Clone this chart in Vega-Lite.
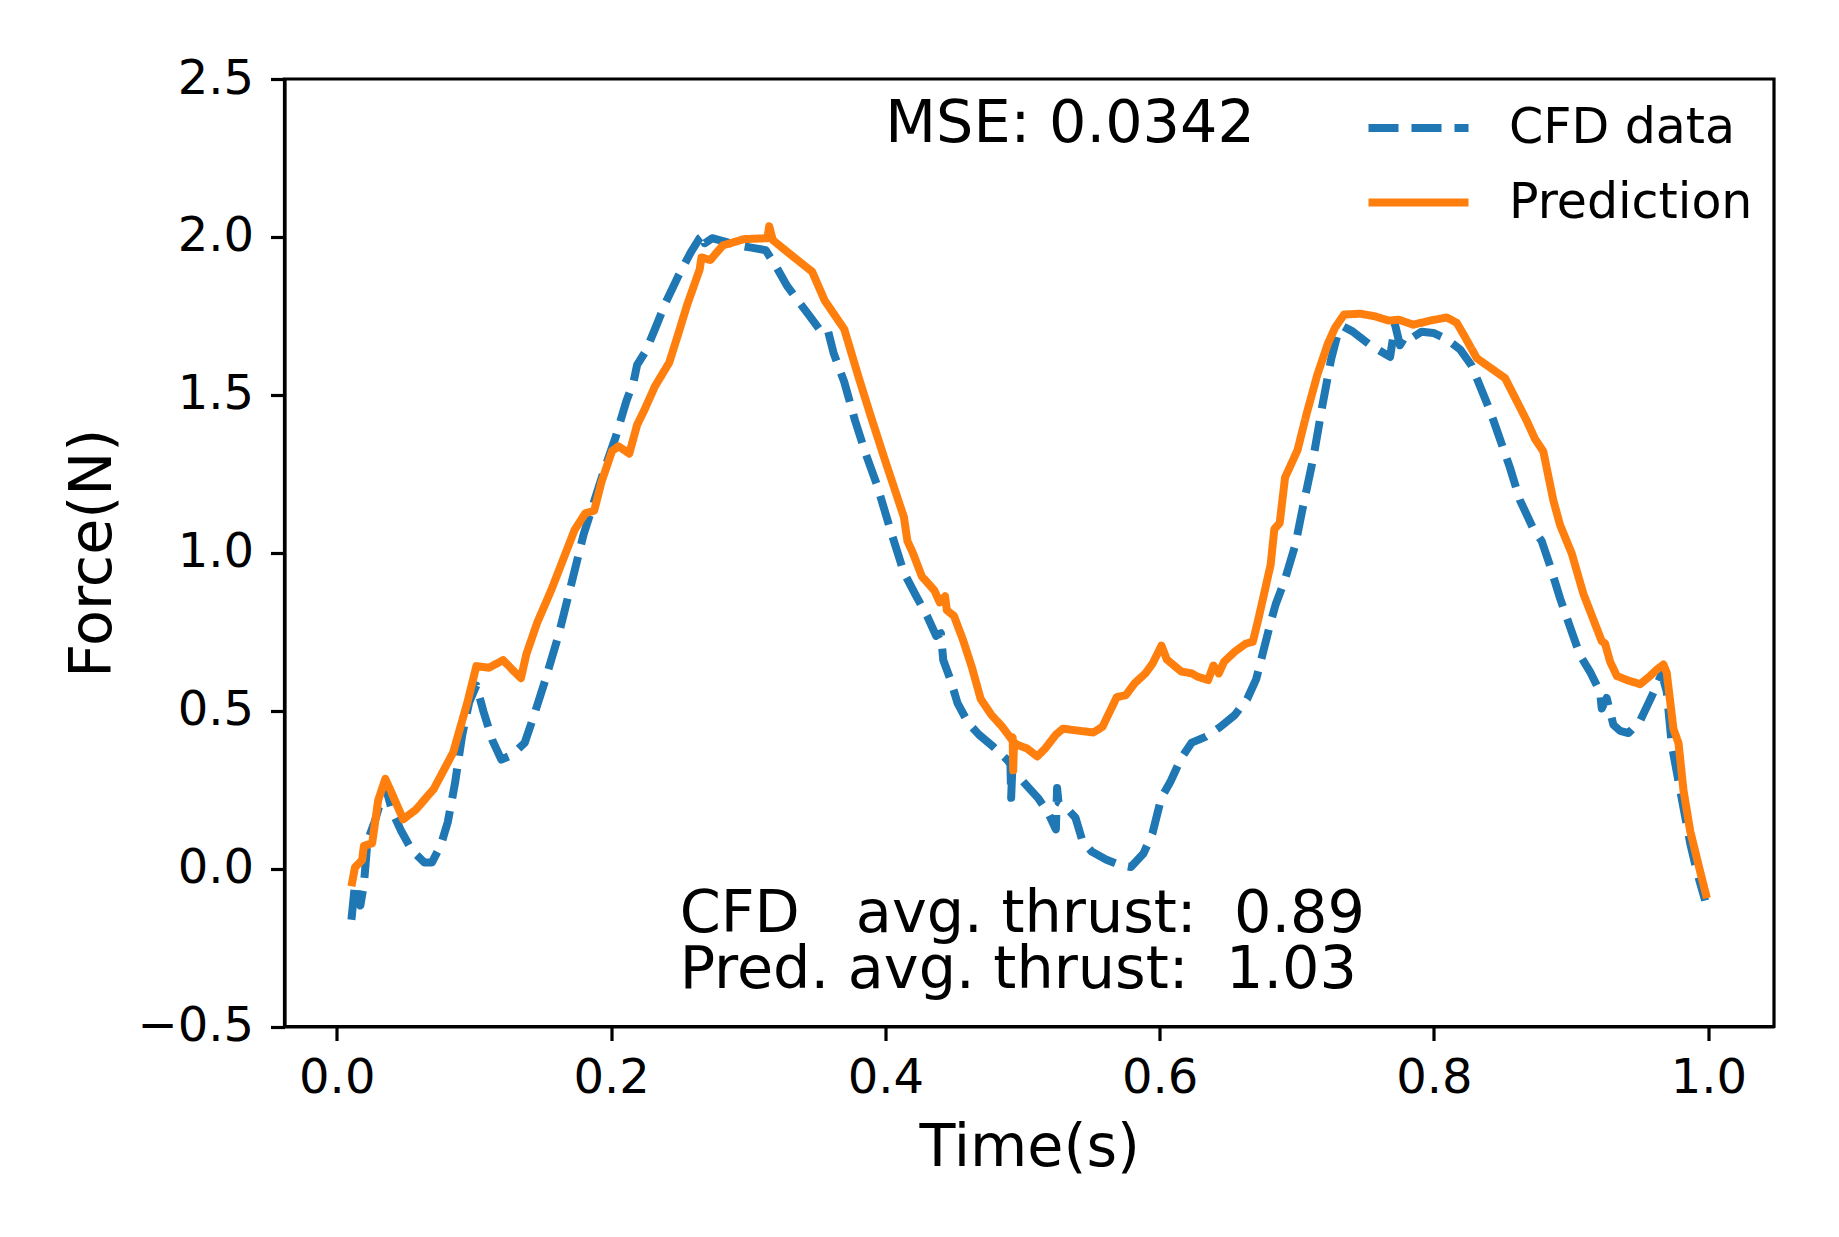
{
  "$schema": "https://vega.github.io/schema/vega-lite/v6.json",
  "width": 1489.5,
  "height": 947.5,
  "autosize": {"type": "none"},
  "padding": {"left": 284.5, "top": 79, "right": 65, "bottom": 210.5},
  "background": "white",
  "datasets": {
    "curves": [
      {"t": 0.0107, "f": -0.162, "s": "CFD data"},
      {"t": 0.0133, "f": -0.049, "s": "CFD data"},
      {"t": 0.0172, "f": -0.117, "s": "CFD data"},
      {"t": 0.0198, "f": -0.049, "s": "CFD data"},
      {"t": 0.0224, "f": 0.087, "s": "CFD data"},
      {"t": 0.0276, "f": 0.148, "s": "CFD data"},
      {"t": 0.0354, "f": 0.262, "s": "CFD data"},
      {"t": 0.0406, "f": 0.179, "s": "CFD data"},
      {"t": 0.0471, "f": 0.118, "s": "CFD data"},
      {"t": 0.0549, "f": 0.057, "s": "CFD data"},
      {"t": 0.064, "f": 0.019, "s": "CFD data"},
      {"t": 0.0693, "f": 0.019, "s": "CFD data"},
      {"t": 0.0758, "f": 0.073, "s": "CFD data"},
      {"t": 0.081, "f": 0.148, "s": "CFD data"},
      {"t": 0.0862, "f": 0.27, "s": "CFD data"},
      {"t": 0.0914, "f": 0.421, "s": "CFD data"},
      {"t": 0.0966, "f": 0.527, "s": "CFD data"},
      {"t": 0.1018, "f": 0.58, "s": "CFD data"},
      {"t": 0.107, "f": 0.497, "s": "CFD data"},
      {"t": 0.1135, "f": 0.406, "s": "CFD data"},
      {"t": 0.12, "f": 0.345, "s": "CFD data"},
      {"t": 0.1278, "f": 0.36, "s": "CFD data"},
      {"t": 0.137, "f": 0.398, "s": "CFD data"},
      {"t": 0.1435, "f": 0.481, "s": "CFD data"},
      {"t": 0.1513, "f": 0.587, "s": "CFD data"},
      {"t": 0.1617, "f": 0.739, "s": "CFD data"},
      {"t": 0.1721, "f": 0.92, "s": "CFD data"},
      {"t": 0.1799, "f": 1.057, "s": "CFD data"},
      {"t": 0.1877, "f": 1.163, "s": "CFD data"},
      {"t": 0.1955, "f": 1.269, "s": "CFD data"},
      {"t": 0.2034, "f": 1.367, "s": "CFD data"},
      {"t": 0.2112, "f": 1.481, "s": "CFD data"},
      {"t": 0.2164, "f": 1.541, "s": "CFD data"},
      {"t": 0.219, "f": 1.595, "s": "CFD data"},
      {"t": 0.2255, "f": 1.64, "s": "CFD data"},
      {"t": 0.232, "f": 1.708, "s": "CFD data"},
      {"t": 0.2398, "f": 1.792, "s": "CFD data"},
      {"t": 0.2489, "f": 1.875, "s": "CFD data"},
      {"t": 0.2581, "f": 1.951, "s": "CFD data"},
      {"t": 0.2646, "f": 1.996, "s": "CFD data"},
      {"t": 0.268, "f": 2.008, "s": "CFD data"},
      {"t": 0.2684, "f": 1.98, "s": "CFD data"},
      {"t": 0.2737, "f": 1.996, "s": "CFD data"},
      {"t": 0.2919, "f": 1.974, "s": "CFD data"},
      {"t": 0.3023, "f": 1.966, "s": "CFD data"},
      {"t": 0.3127, "f": 1.958, "s": "CFD data"},
      {"t": 0.3205, "f": 1.905, "s": "CFD data"},
      {"t": 0.3283, "f": 1.845, "s": "CFD data"},
      {"t": 0.3361, "f": 1.799, "s": "CFD data"},
      {"t": 0.344, "f": 1.754, "s": "CFD data"},
      {"t": 0.3544, "f": 1.693, "s": "CFD data"},
      {"t": 0.3583, "f": 1.7, "s": "CFD data"},
      {"t": 0.3622, "f": 1.633, "s": "CFD data"},
      {"t": 0.37, "f": 1.541, "s": "CFD data"},
      {"t": 0.3778, "f": 1.42, "s": "CFD data"},
      {"t": 0.3856, "f": 1.314, "s": "CFD data"},
      {"t": 0.394, "f": 1.213, "s": "CFD data"},
      {"t": 0.4044, "f": 1.062, "s": "CFD data"},
      {"t": 0.4135, "f": 0.937, "s": "CFD data"},
      {"t": 0.4226, "f": 0.862, "s": "CFD data"},
      {"t": 0.4304, "f": 0.8, "s": "CFD data"},
      {"t": 0.437, "f": 0.737, "s": "CFD data"},
      {"t": 0.4405, "f": 0.745, "s": "CFD data"},
      {"t": 0.4422, "f": 0.66, "s": "CFD data"},
      {"t": 0.4474, "f": 0.599, "s": "CFD data"},
      {"t": 0.4526, "f": 0.524, "s": "CFD data"},
      {"t": 0.4604, "f": 0.461, "s": "CFD data"},
      {"t": 0.4682, "f": 0.424, "s": "CFD data"},
      {"t": 0.4786, "f": 0.386, "s": "CFD data"},
      {"t": 0.4891, "f": 0.343, "s": "CFD data"},
      {"t": 0.4912, "f": 0.33, "s": "CFD data"},
      {"t": 0.4917, "f": 0.224, "s": "CFD data"},
      {"t": 0.4925, "f": 0.31, "s": "CFD data"},
      {"t": 0.4956, "f": 0.299, "s": "CFD data"},
      {"t": 0.5034, "f": 0.261, "s": "CFD data"},
      {"t": 0.5112, "f": 0.224, "s": "CFD data"},
      {"t": 0.519, "f": 0.174, "s": "CFD data"},
      {"t": 0.5243, "f": 0.124, "s": "CFD data"},
      {"t": 0.5252, "f": 0.255, "s": "CFD data"},
      {"t": 0.5262, "f": 0.21, "s": "CFD data"},
      {"t": 0.5308, "f": 0.198, "s": "CFD data"},
      {"t": 0.5386, "f": 0.161, "s": "CFD data"},
      {"t": 0.5438, "f": 0.086, "s": "CFD data"},
      {"t": 0.5504, "f": 0.054, "s": "CFD data"},
      {"t": 0.5608, "f": 0.029, "s": "CFD data"},
      {"t": 0.5712, "f": 0.011, "s": "CFD data"},
      {"t": 0.579, "f": 0.005, "s": "CFD data"},
      {"t": 0.5882, "f": 0.048, "s": "CFD data"},
      {"t": 0.5947, "f": 0.111, "s": "CFD data"},
      {"t": 0.6012, "f": 0.224, "s": "CFD data"},
      {"t": 0.6077, "f": 0.274, "s": "CFD data"},
      {"t": 0.6156, "f": 0.349, "s": "CFD data"},
      {"t": 0.6234, "f": 0.399, "s": "CFD data"},
      {"t": 0.6338, "f": 0.418, "s": "CFD data"},
      {"t": 0.6443, "f": 0.449, "s": "CFD data"},
      {"t": 0.6547, "f": 0.486, "s": "CFD data"},
      {"t": 0.6638, "f": 0.537, "s": "CFD data"},
      {"t": 0.6703, "f": 0.599, "s": "CFD data"},
      {"t": 0.6755, "f": 0.687, "s": "CFD data"},
      {"t": 0.6806, "f": 0.775, "s": "CFD data"},
      {"t": 0.6846, "f": 0.837, "s": "CFD data"},
      {"t": 0.6911, "f": 0.912, "s": "CFD data"},
      {"t": 0.6989, "f": 1.025, "s": "CFD data"},
      {"t": 0.7041, "f": 1.138, "s": "CFD data"},
      {"t": 0.712, "f": 1.3, "s": "CFD data"},
      {"t": 0.7185, "f": 1.463, "s": "CFD data"},
      {"t": 0.725, "f": 1.613, "s": "CFD data"},
      {"t": 0.7302, "f": 1.701, "s": "CFD data"},
      {"t": 0.7341, "f": 1.716, "s": "CFD data"},
      {"t": 0.7406, "f": 1.701, "s": "CFD data"},
      {"t": 0.7537, "f": 1.657, "s": "CFD data"},
      {"t": 0.768, "f": 1.62, "s": "CFD data"},
      {"t": 0.7716, "f": 1.722, "s": "CFD data"},
      {"t": 0.7752, "f": 1.657, "s": "CFD data"},
      {"t": 0.7797, "f": 1.689, "s": "CFD data"},
      {"t": 0.7849, "f": 1.683, "s": "CFD data"},
      {"t": 0.791, "f": 1.7, "s": "CFD data"},
      {"t": 0.7995, "f": 1.696, "s": "CFD data"},
      {"t": 0.8093, "f": 1.676, "s": "CFD data"},
      {"t": 0.819, "f": 1.644, "s": "CFD data"},
      {"t": 0.8275, "f": 1.592, "s": "CFD data"},
      {"t": 0.8335, "f": 1.528, "s": "CFD data"},
      {"t": 0.8408, "f": 1.45, "s": "CFD data"},
      {"t": 0.8481, "f": 1.36, "s": "CFD data"},
      {"t": 0.8554, "f": 1.269, "s": "CFD data"},
      {"t": 0.8627, "f": 1.166, "s": "CFD data"},
      {"t": 0.8725, "f": 1.075, "s": "CFD data"},
      {"t": 0.8785, "f": 1.037, "s": "CFD data"},
      {"t": 0.8846, "f": 0.959, "s": "CFD data"},
      {"t": 0.8919, "f": 0.856, "s": "CFD data"},
      {"t": 0.8992, "f": 0.765, "s": "CFD data"},
      {"t": 0.9065, "f": 0.675, "s": "CFD data"},
      {"t": 0.9138, "f": 0.623, "s": "CFD data"},
      {"t": 0.9211, "f": 0.559, "s": "CFD data"},
      {"t": 0.9223, "f": 0.507, "s": "CFD data"},
      {"t": 0.9259, "f": 0.54, "s": "CFD data"},
      {"t": 0.9308, "f": 0.455, "s": "CFD data"},
      {"t": 0.9357, "f": 0.436, "s": "CFD data"},
      {"t": 0.9418, "f": 0.429, "s": "CFD data"},
      {"t": 0.9503, "f": 0.468, "s": "CFD data"},
      {"t": 0.9588, "f": 0.546, "s": "CFD data"},
      {"t": 0.9661, "f": 0.617, "s": "CFD data"},
      {"t": 0.9697, "f": 0.56, "s": "CFD data"},
      {"t": 0.9734, "f": 0.39, "s": "CFD data"},
      {"t": 0.9795, "f": 0.248, "s": "CFD data"},
      {"t": 0.9868, "f": 0.08, "s": "CFD data"},
      {"t": 0.9917, "f": -0.01, "s": "CFD data"},
      {"t": 0.9977, "f": -0.101, "s": "CFD data"},
      {"t": 0.0107, "f": -0.056, "s": "Prediction"},
      {"t": 0.0133, "f": 0.004, "s": "Prediction"},
      {"t": 0.0185, "f": 0.027, "s": "Prediction"},
      {"t": 0.0198, "f": 0.072, "s": "Prediction"},
      {"t": 0.0258, "f": 0.08, "s": "Prediction"},
      {"t": 0.0302, "f": 0.216, "s": "Prediction"},
      {"t": 0.0354, "f": 0.284, "s": "Prediction"},
      {"t": 0.0393, "f": 0.247, "s": "Prediction"},
      {"t": 0.0484, "f": 0.156, "s": "Prediction"},
      {"t": 0.0575, "f": 0.186, "s": "Prediction"},
      {"t": 0.0706, "f": 0.251, "s": "Prediction"},
      {"t": 0.0849, "f": 0.368, "s": "Prediction"},
      {"t": 0.0953, "f": 0.527, "s": "Prediction"},
      {"t": 0.1018, "f": 0.641, "s": "Prediction"},
      {"t": 0.111, "f": 0.636, "s": "Prediction"},
      {"t": 0.1213, "f": 0.66, "s": "Prediction"},
      {"t": 0.1291, "f": 0.625, "s": "Prediction"},
      {"t": 0.1343, "f": 0.603, "s": "Prediction"},
      {"t": 0.1382, "f": 0.678, "s": "Prediction"},
      {"t": 0.146, "f": 0.777, "s": "Prediction"},
      {"t": 0.1565, "f": 0.883, "s": "Prediction"},
      {"t": 0.1734, "f": 1.072, "s": "Prediction"},
      {"t": 0.1812, "f": 1.125, "s": "Prediction"},
      {"t": 0.1877, "f": 1.133, "s": "Prediction"},
      {"t": 0.193, "f": 1.224, "s": "Prediction"},
      {"t": 0.2007, "f": 1.322, "s": "Prediction"},
      {"t": 0.2054, "f": 1.337, "s": "Prediction"},
      {"t": 0.2133, "f": 1.314, "s": "Prediction"},
      {"t": 0.219, "f": 1.405, "s": "Prediction"},
      {"t": 0.2242, "f": 1.451, "s": "Prediction"},
      {"t": 0.232, "f": 1.527, "s": "Prediction"},
      {"t": 0.2424, "f": 1.602, "s": "Prediction"},
      {"t": 0.249, "f": 1.693, "s": "Prediction"},
      {"t": 0.2554, "f": 1.784, "s": "Prediction"},
      {"t": 0.2646, "f": 1.897, "s": "Prediction"},
      {"t": 0.2659, "f": 1.935, "s": "Prediction"},
      {"t": 0.2724, "f": 1.927, "s": "Prediction"},
      {"t": 0.2815, "f": 1.973, "s": "Prediction"},
      {"t": 0.297, "f": 1.993, "s": "Prediction"},
      {"t": 0.314, "f": 1.996, "s": "Prediction"},
      {"t": 0.3153, "f": 2.034, "s": "Prediction"},
      {"t": 0.3179, "f": 1.99, "s": "Prediction"},
      {"t": 0.3335, "f": 1.935, "s": "Prediction"},
      {"t": 0.3466, "f": 1.89, "s": "Prediction"},
      {"t": 0.3557, "f": 1.799, "s": "Prediction"},
      {"t": 0.37, "f": 1.708, "s": "Prediction"},
      {"t": 0.3804, "f": 1.557, "s": "Prediction"},
      {"t": 0.3888, "f": 1.44, "s": "Prediction"},
      {"t": 0.3992, "f": 1.3, "s": "Prediction"},
      {"t": 0.4135, "f": 1.113, "s": "Prediction"},
      {"t": 0.4161, "f": 1.037, "s": "Prediction"},
      {"t": 0.42, "f": 1.0, "s": "Prediction"},
      {"t": 0.4266, "f": 0.925, "s": "Prediction"},
      {"t": 0.4357, "f": 0.881, "s": "Prediction"},
      {"t": 0.4396, "f": 0.843, "s": "Prediction"},
      {"t": 0.4435, "f": 0.862, "s": "Prediction"},
      {"t": 0.4448, "f": 0.818, "s": "Prediction"},
      {"t": 0.45, "f": 0.8, "s": "Prediction"},
      {"t": 0.4566, "f": 0.724, "s": "Prediction"},
      {"t": 0.4631, "f": 0.637, "s": "Prediction"},
      {"t": 0.4695, "f": 0.537, "s": "Prediction"},
      {"t": 0.4774, "f": 0.486, "s": "Prediction"},
      {"t": 0.4852, "f": 0.449, "s": "Prediction"},
      {"t": 0.4917, "f": 0.411, "s": "Prediction"},
      {"t": 0.4928, "f": 0.415, "s": "Prediction"},
      {"t": 0.4932, "f": 0.311, "s": "Prediction"},
      {"t": 0.4938, "f": 0.4, "s": "Prediction"},
      {"t": 0.4956, "f": 0.393, "s": "Prediction"},
      {"t": 0.5034, "f": 0.38, "s": "Prediction"},
      {"t": 0.5107, "f": 0.355, "s": "Prediction"},
      {"t": 0.5165, "f": 0.38, "s": "Prediction"},
      {"t": 0.5243, "f": 0.424, "s": "Prediction"},
      {"t": 0.5295, "f": 0.443, "s": "Prediction"},
      {"t": 0.54, "f": 0.437, "s": "Prediction"},
      {"t": 0.5517, "f": 0.431, "s": "Prediction"},
      {"t": 0.5583, "f": 0.449, "s": "Prediction"},
      {"t": 0.5687, "f": 0.543, "s": "Prediction"},
      {"t": 0.5753, "f": 0.549, "s": "Prediction"},
      {"t": 0.5818, "f": 0.587, "s": "Prediction"},
      {"t": 0.5896, "f": 0.618, "s": "Prediction"},
      {"t": 0.5948, "f": 0.649, "s": "Prediction"},
      {"t": 0.6013, "f": 0.706, "s": "Prediction"},
      {"t": 0.6052, "f": 0.662, "s": "Prediction"},
      {"t": 0.6157, "f": 0.624, "s": "Prediction"},
      {"t": 0.6235, "f": 0.618, "s": "Prediction"},
      {"t": 0.6274, "f": 0.608, "s": "Prediction"},
      {"t": 0.6353, "f": 0.597, "s": "Prediction"},
      {"t": 0.6392, "f": 0.643, "s": "Prediction"},
      {"t": 0.6431, "f": 0.618, "s": "Prediction"},
      {"t": 0.647, "f": 0.655, "s": "Prediction"},
      {"t": 0.6548, "f": 0.687, "s": "Prediction"},
      {"t": 0.6627, "f": 0.712, "s": "Prediction"},
      {"t": 0.6679, "f": 0.718, "s": "Prediction"},
      {"t": 0.6718, "f": 0.787, "s": "Prediction"},
      {"t": 0.677, "f": 0.887, "s": "Prediction"},
      {"t": 0.6809, "f": 0.962, "s": "Prediction"},
      {"t": 0.6836, "f": 1.075, "s": "Prediction"},
      {"t": 0.6875, "f": 1.094, "s": "Prediction"},
      {"t": 0.6914, "f": 1.238, "s": "Prediction"},
      {"t": 0.7005, "f": 1.325, "s": "Prediction"},
      {"t": 0.707, "f": 1.438, "s": "Prediction"},
      {"t": 0.7149, "f": 1.563, "s": "Prediction"},
      {"t": 0.7227, "f": 1.663, "s": "Prediction"},
      {"t": 0.7279, "f": 1.713, "s": "Prediction"},
      {"t": 0.7344, "f": 1.754, "s": "Prediction"},
      {"t": 0.7461, "f": 1.757, "s": "Prediction"},
      {"t": 0.7566, "f": 1.749, "s": "Prediction"},
      {"t": 0.767, "f": 1.735, "s": "Prediction"},
      {"t": 0.7743, "f": 1.738, "s": "Prediction"},
      {"t": 0.7849, "f": 1.722, "s": "Prediction"},
      {"t": 0.7971, "f": 1.735, "s": "Prediction"},
      {"t": 0.8093, "f": 1.745, "s": "Prediction"},
      {"t": 0.8166, "f": 1.728, "s": "Prediction"},
      {"t": 0.8226, "f": 1.683, "s": "Prediction"},
      {"t": 0.8312, "f": 1.616, "s": "Prediction"},
      {"t": 0.8433, "f": 1.579, "s": "Prediction"},
      {"t": 0.8518, "f": 1.553, "s": "Prediction"},
      {"t": 0.8578, "f": 1.502, "s": "Prediction"},
      {"t": 0.8676, "f": 1.418, "s": "Prediction"},
      {"t": 0.8737, "f": 1.36, "s": "Prediction"},
      {"t": 0.8797, "f": 1.321, "s": "Prediction"},
      {"t": 0.887, "f": 1.166, "s": "Prediction"},
      {"t": 0.8919, "f": 1.088, "s": "Prediction"},
      {"t": 0.9004, "f": 0.998, "s": "Prediction"},
      {"t": 0.909, "f": 0.869, "s": "Prediction"},
      {"t": 0.9223, "f": 0.72, "s": "Prediction"},
      {"t": 0.9247, "f": 0.713, "s": "Prediction"},
      {"t": 0.9284, "f": 0.655, "s": "Prediction"},
      {"t": 0.9333, "f": 0.61, "s": "Prediction"},
      {"t": 0.9406, "f": 0.597, "s": "Prediction"},
      {"t": 0.9503, "f": 0.584, "s": "Prediction"},
      {"t": 0.9576, "f": 0.61, "s": "Prediction"},
      {"t": 0.9624, "f": 0.63, "s": "Prediction"},
      {"t": 0.9673, "f": 0.646, "s": "Prediction"},
      {"t": 0.9697, "f": 0.62, "s": "Prediction"},
      {"t": 0.9746, "f": 0.442, "s": "Prediction"},
      {"t": 0.9783, "f": 0.397, "s": "Prediction"},
      {"t": 0.9819, "f": 0.248, "s": "Prediction"},
      {"t": 0.9868, "f": 0.119, "s": "Prediction"},
      {"t": 0.9941, "f": -0.01, "s": "Prediction"},
      {"t": 0.999, "f": -0.094, "s": "Prediction"}
    ],
    "notes": [
      {"t": 0.4, "f": 2.3, "label": "MSE: 0.0342"},
      {"t": 0.25, "f": -0.2, "label": "CFD\u00a0\u00a0\u00a0avg. thrust:\u00a0\u00a00.89\nPred. avg. thrust:\u00a0\u00a01.03"}
    ]
  },
  "encoding": {
    "x": {
      "field": "t",
      "type": "quantitative",
      "scale": {"domain": [-0.0381, 1.0479], "nice": false, "zero": false},
      "axis": {
        "title": "Time(s)",
        "values": [0, 0.2, 0.4, 0.6, 0.8, 1.0],
        "format": ".1f",
        "labelBaseline": "alphabetic",
        "labelPadding": 51.5,
        "titleY": 138.5,
        "titleBaseline": "alphabetic"
      }
    },
    "y": {
      "field": "f",
      "type": "quantitative",
      "scale": {"domain": [-0.5, 2.5], "nice": false, "zero": false},
      "axis": {
        "title": "Force(N)",
        "values": [-0.5, 0, 0.5, 1, 1.5, 2, 2.5],
        "format": ".1f",
        "labelBaseline": "middle",
        "labelPadding": 17,
        "titleAngle": 270,
        "titleAlign": "center",
        "titleBaseline": "alphabetic",
        "titleX": -174.5,
        "titleY": 473.75
      }
    }
  },
  "layer": [
    {
      "data": {"name": "curves"},
      "mark": {"type": "line", "strokeWidth": 8, "strokeJoin": "round", "clip": true},
      "encoding": {
        "color": {
          "field": "s",
          "type": "nominal",
          "scale": {"domain": ["CFD data", "Prediction"], "range": ["#1f77b4", "#ff7f0e"]},
          "legend": {
            "title": null,
            "orient": "none",
            "legendX": 1105,
            "legendY": 20,
            "padding": 0,
            "symbolType": "M-2,0H2",
            "symbolSize": 2500,
            "symbolStrokeWidth": 8,
            "labelOffset": 61.5,
            "labelLimit": 0,
            "rowPadding": 20.5
          }
        },
        "strokeDash": {
          "field": "s",
          "type": "nominal",
          "scale": {"domain": ["CFD data", "Prediction"], "range": [[30, 13], [1, 0]]},
          "legend": {
            "title": null,
            "orient": "none",
            "legendX": 1105,
            "legendY": 20,
            "padding": 0,
            "symbolType": "M-2,0H2",
            "symbolSize": 2500,
            "symbolStrokeWidth": 8,
            "labelOffset": 61.5,
            "labelLimit": 0,
            "rowPadding": 20.5
          }
        }
      }
    },
    {
      "data": {"name": "notes"},
      "mark": {
        "type": "text",
        "align": "left",
        "baseline": "alphabetic",
        "font": "DejaVu Sans",
        "fontSize": 58.8,
        "lineBreak": "\n",
        "lineHeight": 56.6,
        "color": "black"
      },
      "encoding": {
        "text": {"field": "label", "type": "nominal"}
      }
    }
  ],
  "config": {
    "view": {"stroke": "black", "strokeWidth": 3.2},
    "axis": {
      "grid": false,
      "domainColor": "black",
      "domainWidth": 3.2,
      "tickColor": "black",
      "tickWidth": 3.2,
      "tickSize": 14,
      "labelFont": "DejaVu Sans",
      "labelFontSize": 48,
      "labelColor": "black",
      "labelFlush": false,
      "labelOverlap": false,
      "labelBound": false,
      "titleFont": "DejaVu Sans",
      "titleFontSize": 58.8,
      "titleFontWeight": "normal",
      "titleColor": "black"
    },
    "legend": {
      "labelFont": "DejaVu Sans",
      "labelFontSize": 49,
      "labelColor": "black"
    }
  }
}
